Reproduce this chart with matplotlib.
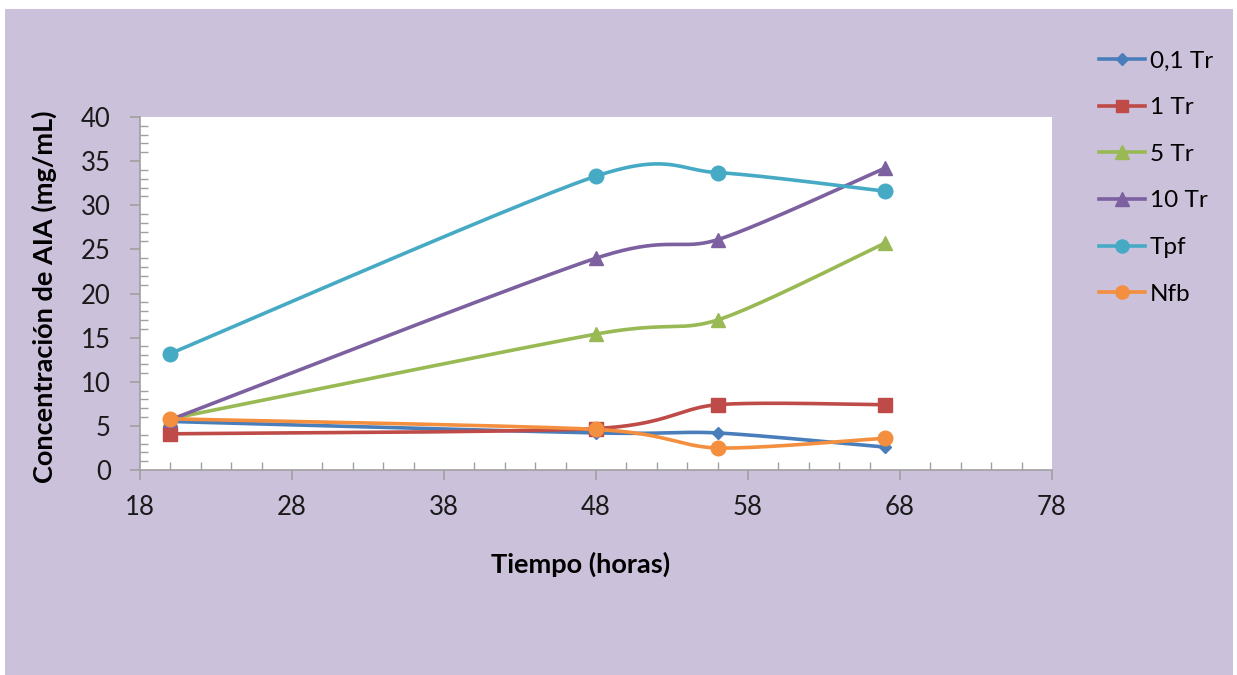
import numpy as np
import matplotlib.pyplot as plt
from matplotlib.patches import Rectangle
from matplotlib.lines import Line2D
from matplotlib.ticker import MultipleLocator

#-----------------------------#
#           Data
#-----------------------------#

horas = [20, 48, 56, 67]

tr_01 = [5.5, 4.2, 4.2, 2.6]
tr_1 = [4.1, 4.7, 7.4, 7.4]
tr_5 = [5.8, 15.4, 17.0, 25.7]
tr_10 = [5.7, 24.0, 26.1, 34.2]
tpf = [13.2, 33.3, 33.7, 31.6]
nfb = [5.8, 4.6, 2.5, 3.6]

series_names = ['0,1 Tr', '1 Tr', '5 Tr', '10 Tr', 'Tpf', 'Nfb']
series_values = [tr_01, tr_1, tr_5, tr_10, tpf, nfb]
colors = ['#4A7EBB', '#BE4B48', '#98B954', '#7D60A0', '#46AAC5', '#F38F3E']
markers = ['D', 's', '^', '^', 'o', 'o']
msizes = [6.5, 10, 10.5, 10.5, 10.5, 10.5]

#-----------------------------#
#     Excel-like smoothing
#-----------------------------#

def smooth(x, y, n=60, k=7.5):
    """Catmull-Rom style bezier through the points (like Excel smoothed lines)."""
    pts = np.column_stack([x, y]).astype(float)
    ext = np.vstack([pts[0], pts, pts[-1]])
    t = np.linspace(0, 1, n)[:, None]
    out = []
    for i in range(len(pts) - 1):
        p0, p1, p2, p3 = ext[i], ext[i + 1], ext[i + 2], ext[i + 3]
        c1 = p1 + (p2 - p0) / k
        c2 = p2 - (p3 - p1) / k
        seg = ((1 - t) ** 3) * p1 + 3 * ((1 - t) ** 2) * t * c1 + 3 * (1 - t) * t ** 2 * c2 + t ** 3 * p2
        out.append(seg)
    out = np.vstack(out)
    return out[:, 0], out[:, 1]

#-----------------------------#
#           Plot
#-----------------------------#

plt.rcParams['font.family'] = ['Lato', 'DejaVu Sans']

fig = plt.figure(figsize=(12.37, 6.75), dpi=100)
fig.patch.set_facecolor('white')
bg = Rectangle((5 / 1237, 0), 1228 / 1237, 666 / 675, transform=fig.transFigure,
               facecolor='#CCC1DA', edgecolor='none', zorder=-10)
fig.patches.append(bg)

ax = fig.add_axes([140 / 1237, 1 - 470 / 675, 912 / 1237, 353 / 675])
ax.set_zorder(5)
ax.set_facecolor('white')

for name, vals, c, m, ms in zip(series_names, series_values, colors, markers, msizes):
    sx, sy = smooth(horas, vals)
    ax.plot(sx, sy, color=c, lw=2.6, solid_capstyle='round', zorder=3)
    ax.plot(horas, vals, linestyle='none', marker=m, color=c, markersize=ms, zorder=4)

ax.set_xlim(18, 78)
ax.set_ylim(0, 40)
ax.xaxis.set_major_locator(MultipleLocator(10, offset=8))
ax.xaxis.set_minor_locator(MultipleLocator(2))
ax.yaxis.set_major_locator(MultipleLocator(5))
ax.yaxis.set_minor_locator(MultipleLocator(1))

for s in ['top', 'right']:
    ax.spines[s].set_visible(False)
for s in ['left', 'bottom']:
    ax.spines[s].set_color('#A0A0A0')
    ax.spines[s].set_linewidth(1.2)

ax.tick_params(which='major', direction='out', length=7, width=1.2, color='#A0A0A0',
               labelsize=18.5, labelcolor='#1A1A1A')
ax.tick_params(axis='y', which='major', pad=14)
ax.tick_params(axis='x', which='major', pad=11)
ax.tick_params(which='minor', direction='in', length=6, width=1.0, color='#A0A0A0')

ax.set_xlabel('Tiempo (horas)', fontsize=19.5, fontweight='bold')
ax.set_ylabel('Concentración de AIA (mg/mL)', fontsize=19.5, fontweight='bold')
ax.xaxis.set_label_coords((581 - 140) / 912, (470 - 552) / 353)
ax.yaxis.set_label_coords((57 - 140) / 912, 0.49)

handles = [Line2D([], [], color=c, lw=2.6, marker=m, markersize=ms * 0.9)
           for c, m, ms in zip(colors, markers, msizes)]
fig.legend(handles, series_names, loc='upper left', bbox_to_anchor=(1077 / 1237, 1 - 29 / 675),
           frameon=False, fontsize=17.5, handlelength=1.9, handletextpad=0.2,
           labelspacing=1.05)

plt.savefig('out.png', dpi=100)
